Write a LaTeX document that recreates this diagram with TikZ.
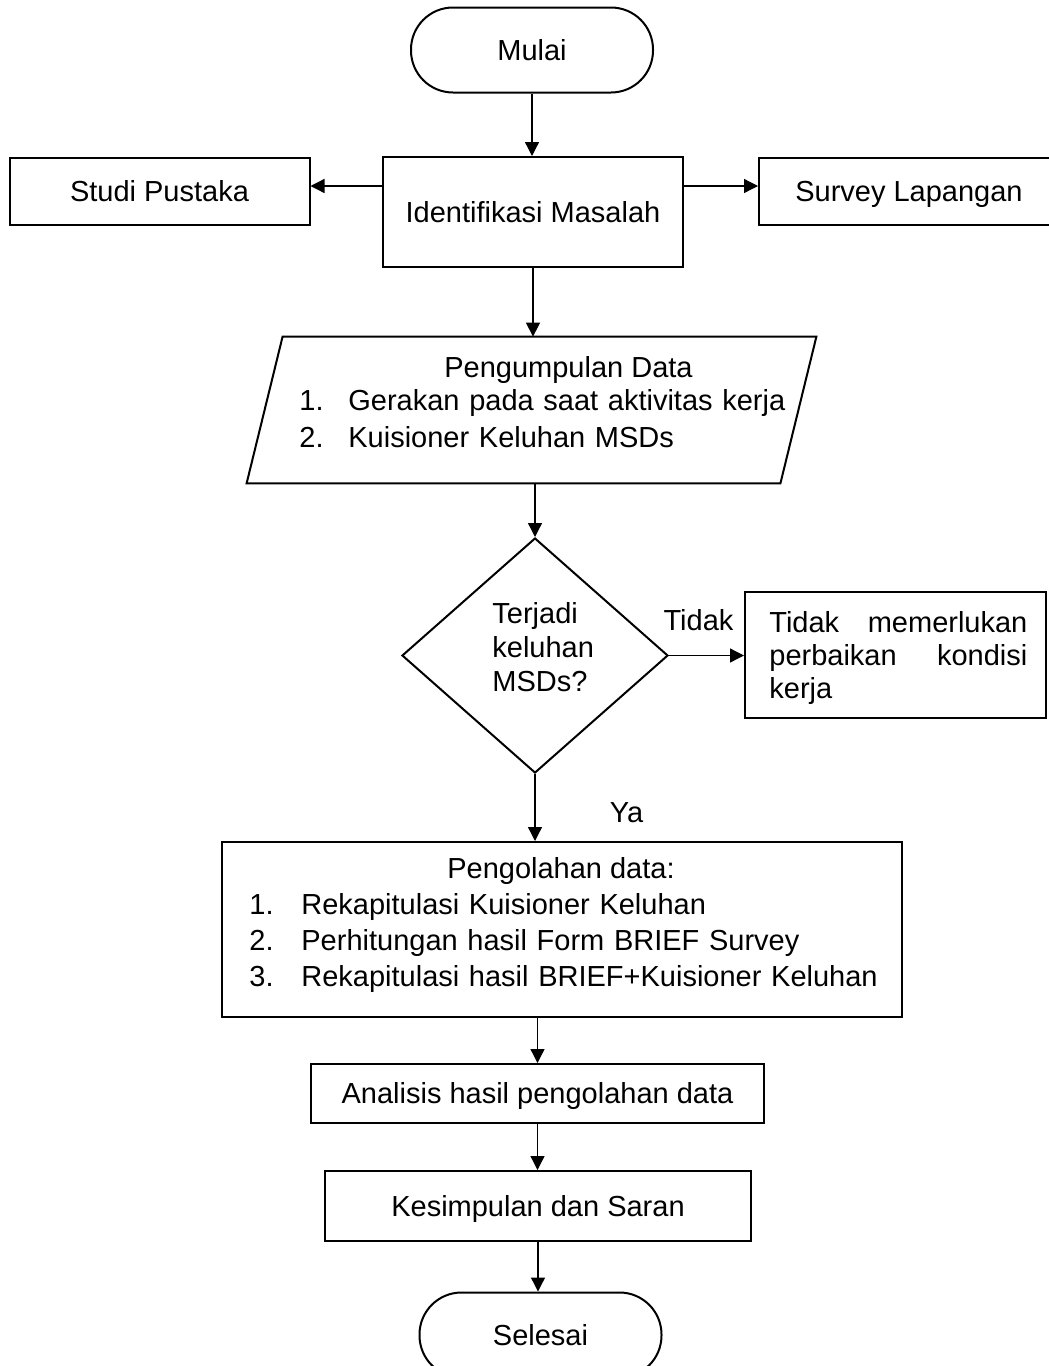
\documentclass[tikz,border=0pt]{standalone}
\usepackage{fontspec}
\setmainfont{Liberation Sans}
\usetikzlibrary{positioning,calc,shapes.geometric,arrows.meta}

\begin{document}
\begin{tikzpicture}[x=0.5pt,y=-0.5pt,
		font=\fontsize{14.5}{16.5}\selectfont,
		outline/.style={draw,line width=1pt},
		procbox/.style={outline,inner sep=0pt,align=center,text height=13.1pt,text depth=3.1pt},
		term/.style={procbox,rounded corners=21pt,minimum width=121pt,minimum height=42.5pt},
		flow/.style={-{Triangle[length=7pt,width=7pt]},line width=0.65pt},
		listtext/.style={anchor=base west,inner sep=0pt,align=left}]
		\useasboundingbox (0,0) rectangle (1049,1366);

		\node[term] (mulai) at (532,50) {Mulai};
		\node[procbox,minimum width=150pt,minimum height=55pt] (ident) at (533,212) {Identifikasi Masalah};
		\node[procbox,minimum width=150pt,minimum height=33.5pt] (studi) at (159.5,191) {Studi Pustaka};
		\node[procbox,minimum width=150pt,minimum height=33.5pt] (survey) at (909,191) {Survey Lapangan};

		% pengumpulan data
		\node[minimum width=284.5pt,minimum height=73pt,inner sep=0pt] (data) at (531.5,410) {};
		\draw[outline] ($(data.north west)+(36,0)$) -- (data.north east) -- ($(data.south east)+(-36,0)$) -- (data.south west) -- cycle;
		\node[anchor=base,inner sep=0pt] (datahead) at (568.5,377) {Pengumpulan Data};
		\node[listtext,text width=270pt,font=\fontsize{14.5}{18.5}\selectfont] (datalist) at (299,410) {\makebox[24.5pt][l]{1.}Gerakan pada saat aktivitas kerja\\\makebox[24.5pt][l]{2.}Kuisioner Keluhan MSDs};

		% keputusan
		\node[diamond,outline,minimum width=133pt,minimum height=117.5pt,inner sep=0pt] (keluhan) at (535,655.5) {};
		\node[listtext,text width=60pt,font=\fontsize{14.5}{17}\selectfont] (keluhantext) at (492,623) {Terjadi\\keluhan\\MSDs?};
		\node[anchor=base,inner sep=0pt] (tidaklabel) at (698.5,630) {Tidak};
		\node[anchor=base,inner sep=0pt] (yalabel) at (626.5,822) {Ya};

		\node[procbox,minimum width=150.5pt,minimum height=63pt] (tidak) at (895.5,655) {};
		\node[listtext,text width=129pt,font=\fontsize{14.5}{16.5}\selectfont] (tidaktext) at (769,632) {Tidak\hfill memerlukan\\perbaikan\hfill kondisi\\kerja};

		% pengolahan data
		\node[procbox,minimum width=340pt,minimum height=87.5pt] (olah) at (562,929.5) {};
		\node[anchor=base,inner sep=0pt] (olahhead) at (561,878) {Pengolahan data:};
		\node[listtext,text width=330pt,font=\fontsize{14.5}{18}\selectfont] (olahlist) at (249,914) {\makebox[26pt][l]{1.}Rekapitulasi Kuisioner Keluhan\\\makebox[26pt][l]{2.}Perhitungan hasil Form BRIEF Survey\\\makebox[26pt][l]{3.}Rekapitulasi hasil BRIEF+Kuisioner Keluhan};

		\node[procbox,minimum width=226.5pt,minimum height=29.5pt] (analisis) at (537.5,1093.5) {Analisis hasil pengolahan data};
		\node[procbox,minimum width=213pt,minimum height=35pt] (simpul) at (538,1206) {Kesimpulan dan Saran};
		\node[term] (selesai) at (540.5,1335) {Selesai};

		\draw[flow] (mulai.south) -- (mulai.south |- ident.north);
		\draw[flow] ($(ident.west |- studi.east)+(0,-5)$) -- ($(studi.east)+(0,-5)$);
		\draw[flow] ($(ident.east |- survey.west)+(0,-5)$) -- ($(survey.west)+(0,-5)$);
		\draw[flow] (ident.south) -- (ident.south |- data.north);
		\draw[flow] (keluhan.north |- data.south) -- (keluhan.north);
		\draw[flow] (keluhan.east) -- (keluhan.east -| tidak.west);
		\draw[flow] (keluhan.south) -- (keluhan.south |- olah.north);
		\draw[flow] (analisis.north |- olah.south) -- (analisis.north);
		\draw[flow] (analisis.south) -- (analisis.south |- simpul.north);
		\draw[flow] (simpul.south) -- (simpul.south |- selesai.north);
	\end{tikzpicture}
\end{document}
